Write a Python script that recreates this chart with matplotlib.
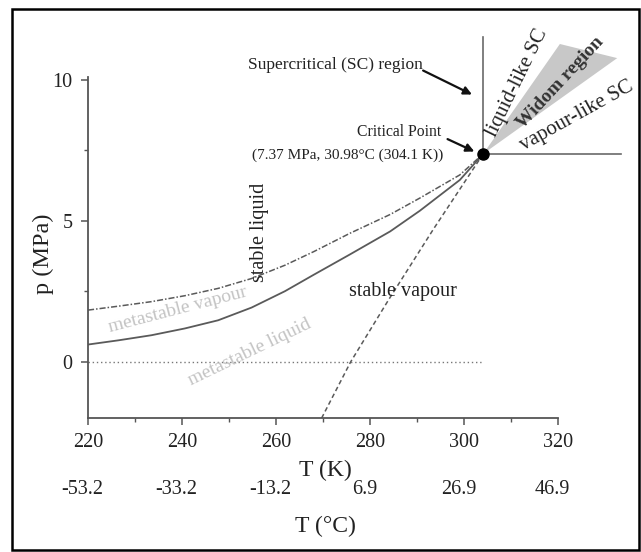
import matplotlib
matplotlib.use("Agg")
import matplotlib.pyplot as plt
from matplotlib.patches import Polygon, Rectangle
from matplotlib.ticker import MultipleLocator

plt.rcParams['font.family'] = ['Liberation Serif', 'DejaVu Serif']

# saturation (coexistence) curve, K / MPa
T_sat = [220, 226.5, 233.5, 240.6, 247.7, 254.8, 261.9, 268, 275.7, 284.3, 290.6, 299.1, 304.1]
p_sat = [0.61, 0.76, 0.94, 1.18, 1.47, 1.92, 2.5, 3.08, 3.8, 4.62, 5.35, 6.44, 7.37]

# upper dash-dot curve
T_up = [220, 226.5, 233.5, 240.6, 247.7, 254.8, 261.9, 268, 275.7, 284.3, 290.6, 299.1, 304.1]
p_up = [1.83, 1.97, 2.13, 2.34, 2.6, 2.95, 3.42, 3.9, 4.55, 5.22, 5.8, 6.62, 7.37]

# dashed (vapour side) curve
T_vap = [269.7, 275.9, 283.9, 293.5, 304.1]
p_vap = [-2.0, 0.0, 2.18, 4.7, 7.37]

# zero pressure line
T_zero = [220, 304.1]
p_zero = [0, 0]

# critical point
T_c, p_c = 304.1, 7.37

# Widom wedge corners and SC boundary lines
widom_T = [T_c, 320.4, 332.6]
widom_p = [p_c, 11.26, 10.76]
sc_vert_top = 11.5
sc_horiz_end = 333.4

xticks_K = [220, 240, 260, 280, 300, 320]
xticks_C = ['-53.2', '-33.2', '-13.2', '6.9', '26.9', '46.9']

line_col = '#5a5a5a'
txt_col = '#222222'

fig = plt.figure(figsize=(6.41, 5.52), dpi=100)
ax = fig.add_axes([0.1373, 0.2424, 0.7332, 0.6186])

ax.plot(T_sat, p_sat, color=line_col, lw=1.3)
ax.plot(T_up, p_up, color=line_col, lw=1.1, dashes=(4, 1.3, 1, 1.3))
ax.plot(T_vap, p_vap, color=line_col, lw=1.1, dashes=(3, 2))
ax.plot(T_zero, p_zero, color='#777777', lw=1.0, dashes=(1, 2))

ax.add_patch(Polygon(list(zip(widom_T, widom_p)), closed=True,
                     facecolor='#c8c8c8', edgecolor='none', clip_on=False))
ax.plot([T_c, T_c], [p_c, sc_vert_top], color='#6a6a6a', lw=1.2, clip_on=False)
ax.plot([T_c, sc_horiz_end], [p_c, p_c], color='#6a6a6a', lw=1.2, clip_on=False)
ax.plot([T_c], [p_c], 'o', color='black', markersize=8, clip_on=False, zorder=5)

ax.set_xlim(220, 320)
ax.set_ylim(-2, 10.1)
for s in ['top', 'right']:
    ax.spines[s].set_visible(False)
for s in ['left', 'bottom']:
    ax.spines[s].set_color('#555555')
    ax.spines[s].set_linewidth(1.3)

ax.set_xticks(xticks_K)
ax.xaxis.set_minor_locator(MultipleLocator(10))
ax.set_yticks([0, 5, 10])
ax.yaxis.set_minor_locator(MultipleLocator(2.5))
ax.tick_params(which='major', direction='out', length=5, width=1.1, color='#555555',
               labelsize=14.5, labelcolor=txt_col, pad=6)
ax.tick_params(which='minor', direction='out', length=3, width=1.0, color='#555555')

ax.set_ylabel('p (MPa)', fontsize=17.5, color=txt_col)
ax.yaxis.set_label_coords(-0.072, 0.4826)
ax.set_xlabel('T (K)', fontsize=17, color=txt_col)
ax.xaxis.set_label_coords(0.504, -0.123)

# second temperature scale in Celsius
for tk, lab in zip(xticks_K, xticks_C):
    ax.text(tk - 1.2, -4.52, lab, ha='center', va='center', fontsize=14.5,
            color=txt_col, clip_on=False)
ax.text(270.6, -5.83, 'T (°C)', ha='center', va='center', fontsize=17,
        color=txt_col, clip_on=False)

# annotations
ax.text(272.6, 10.51, 'Supercritical (SC) region', ha='center', va='center',
        fontsize=12.5, color=txt_col, clip_on=False)
ax.annotate('', xy=(301.7, 9.47), xytext=(291.3, 10.32),
            arrowprops=dict(arrowstyle='-|>', color='#111111', lw=1.6,
                            mutation_scale=12, shrinkA=0, shrinkB=0),
            annotation_clip=False)
ax.text(286.1, 8.14, 'Critical Point', ha='center', va='center',
        fontsize=11.3, color=txt_col)
ax.text(275.2, 7.33, '(7.37 MPa, 30.98°C (304.1 K))', ha='center', va='center',
        fontsize=11, color=txt_col)
ax.annotate('', xy=(302.2, 7.45), xytext=(296.5, 7.89),
            arrowprops=dict(arrowstyle='-|>', color='#111111', lw=1.6,
                            mutation_scale=12, shrinkA=0, shrinkB=0))

ax.text(311.3, 9.89, 'liquid-like SC', rotation=64, ha='center', va='center',
        fontsize=15, color=txt_col, rotation_mode='anchor', clip_on=False)
ax.text(320.4, 9.89, 'Widom region', rotation=47, ha='center', va='center',
        fontsize=14, fontweight='bold', color='#333333', rotation_mode='anchor',
        clip_on=False)
ax.text(323.9, 8.7, 'vapour-like SC', rotation=29, ha='center', va='center',
        fontsize=15, color=txt_col, rotation_mode='anchor', clip_on=False)

ax.text(256.5, 4.58, 'stable liquid', rotation=90, ha='center', va='center',
        fontsize=14.5, color=txt_col)
ax.text(287.0, 2.49, 'stable vapour', ha='center', va='center',
        fontsize=14.5, color=txt_col)
ax.text(239.1, 1.84, 'metastable vapour', rotation=14.6, ha='center', va='center',
        fontsize=14, color='#c4c4c4', rotation_mode='anchor')
ax.text(254.5, 0.34, 'metastable liquid', rotation=25.7, ha='center', va='center',
        fontsize=14, color='#c4c4c4', rotation_mode='anchor')

# outer frame
fig.patches.append(Rectangle((0.0187, 0.0036), 0.978, 0.980, transform=fig.transFigure,
                             fill=False, edgecolor='black', lw=1.8))

fig.savefig('out.png', dpi=100)
